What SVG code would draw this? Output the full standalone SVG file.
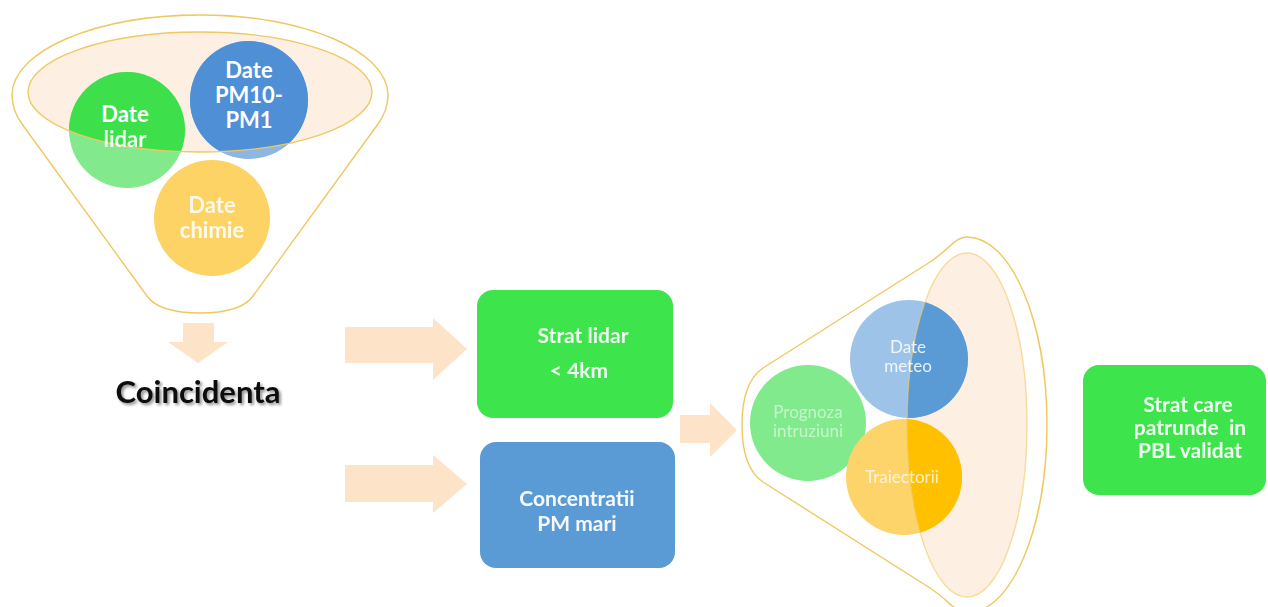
<svg xmlns="http://www.w3.org/2000/svg" width="1268" height="607" viewBox="0 0 1268 607">
<style>
.funnel{fill:none;stroke:#f0c860;stroke-width:1.4}
.ell{fill:#fdf0e3;stroke:none}
.ellline{fill:none;stroke:#f0c860;stroke-width:1.4}
.arrow{fill:#fde3c8}
.t{font-family:Lato,"Liberation Sans",sans-serif;text-anchor:middle;fill:#ffffff}
.b{font-weight:bold}
</style>
<defs>
<clipPath id="ce1"><ellipse cx="200" cy="92" rx="172" ry="60"/></clipPath>
<clipPath id="ce2"><ellipse cx="967" cy="425" rx="60" ry="172"/></clipPath>
<filter id="sh" x="-10%" y="-30%" width="120%" height="160%">
<feGaussianBlur in="SourceAlpha" stdDeviation="1.5"/>
<feOffset dx="2" dy="2" result="o"/>
<feComponentTransfer><feFuncA type="linear" slope="0.45"/></feComponentTransfer>
<feMerge><feMergeNode/><feMergeNode in="SourceGraphic"/></feMerge>
</filter>
</defs>
<rect width="1268" height="607" fill="#ffffff"/>

<g id="funnel1">
<ellipse class="ell" cx="200" cy="92" rx="172" ry="60"/>
<path class="funnel" d="M200,15 C304,15 388,51 388,95 Q388,110 378,124 L253,296 Q241,313 200,313 Q159,313 147,296 L22,124 Q12,110 12,95 C12,51 96,15 200,15 Z"/>
<circle cx="127" cy="130" r="58" fill="#82ea8d"/>
<circle cx="249" cy="100" r="59" fill="#8eb6e2"/>
<g clip-path="url(#ce1)">
<circle cx="127" cy="130" r="58" fill="#3ddf4b"/>
<circle cx="249" cy="100" r="59" fill="#4e8fd6"/>
</g>
<circle cx="212" cy="218" r="58" fill="#fdd366"/>
<ellipse class="ellline" cx="200" cy="92" rx="172" ry="60"/>
</g>

<g id="n-lidar">
<text class="t b" x="125" y="122" font-size="22">Date</text>
<text class="t b" x="125" y="147" font-size="22" opacity="0.9">lidar</text>
</g>
<g id="n-pm">
<text class="t b" x="249" y="78" font-size="22">Date</text>
<text class="t b" x="249" y="103" font-size="22">PM10-</text>
<text class="t b" x="249" y="128" font-size="22">PM1</text>
</g>
<g id="n-chimie">
<text class="t b" x="212" y="213" font-size="22" opacity="0.85">Date</text>
<text class="t b" x="212" y="238" font-size="22" opacity="0.9">chimie</text>
</g>

<g id="n-coincidenta">
<text x="198" y="403" font-family="Lato,'Liberation Sans',sans-serif" font-weight="bold" font-size="30" text-anchor="middle" fill="#111111" filter="url(#sh)" textLength="165" lengthAdjust="spacingAndGlyphs">Coincidenta</text>
</g>

<g id="connectors">
<path class="arrow" d="M183,323 H214 V342 H228 L198,363 L168,342 H183 Z"/>
<path class="arrow" d="M345,327 H433 V318 L467,349 L433,380 V363 H345 Z"/>
<path class="arrow" d="M345,465 H433 V455 L467,484 L433,513 V502 H345 Z"/>
<path class="arrow" d="M680,415 H710 V403 L737,430 L710,457 V443 H680 Z"/>
</g>

<g id="n-strat">
<rect x="477" y="290" width="196" height="128" rx="16" fill="#3ee44c"/>
<text class="t b" x="583" y="343" font-size="21" opacity="0.92">Strat lidar</text>
<text class="t b" x="579" y="378" font-size="21" opacity="0.92">&lt; 4km</text>
</g>

<g id="n-conc">
<rect x="480" y="442" width="195" height="126" rx="16" fill="#5b9bd5"/>
<text class="t b" x="577" y="506" font-size="21" opacity="0.95">Concentratii</text>
<text class="t b" x="577" y="531" font-size="21" opacity="0.95">PM mari</text>
</g>

<g id="funnel2">
<ellipse class="ell" cx="967" cy="425" rx="60" ry="172"/>
<path class="funnel" d="M763,368 L930,262 C950,249 955,237 967,237 C1011,237 1047,321 1047,425 C1047,529 1011,613 967,613 C955,613 950,601 930,588 L763,482 Q742,468 742,425 Q742,382 763,368 Z"/>
<circle cx="808" cy="423" r="58" fill="#80ea8c"/>
<circle cx="909" cy="359" r="59" fill="#9ec3e8"/>
<circle cx="904" cy="477" r="58" fill="#fdd46a"/>
<g clip-path="url(#ce2)">
<circle cx="909" cy="359" r="59" fill="#5b9bd5"/>
<circle cx="904" cy="477" r="58" fill="#ffc000"/>
</g>
<ellipse class="ellline" cx="967" cy="425" rx="60" ry="172" stroke-opacity="0.6"/>
</g>

<g id="n-prognoza">
<text class="t" x="808" y="418" font-size="17" opacity="0.55">Prognoza</text>
<text class="t" x="808" y="437" font-size="17" opacity="0.55">intruziuni</text>
</g>
<g id="n-meteo">
<text class="t" x="908" y="353" font-size="17" opacity="0.85">Date</text>
<text class="t" x="908" y="372" font-size="17" opacity="0.85">meteo</text>
</g>
<g id="n-traiectorii">
<text class="t" x="902" y="483" font-size="17" opacity="0.75">Traiectorii</text>
</g>

<g id="n-final">
<rect x="1083" y="365" width="183" height="130" rx="16" fill="#3ee44c"/>
<text class="t b" x="1188" y="412" font-size="21" opacity="0.92">Strat care</text>
<text class="t b" x="1190" y="435" font-size="21" opacity="0.92" xml:space="preserve">patrunde  in</text>
<text class="t b" x="1190" y="458" font-size="21" opacity="0.92">PBL validat</text>
</g>
</svg>
